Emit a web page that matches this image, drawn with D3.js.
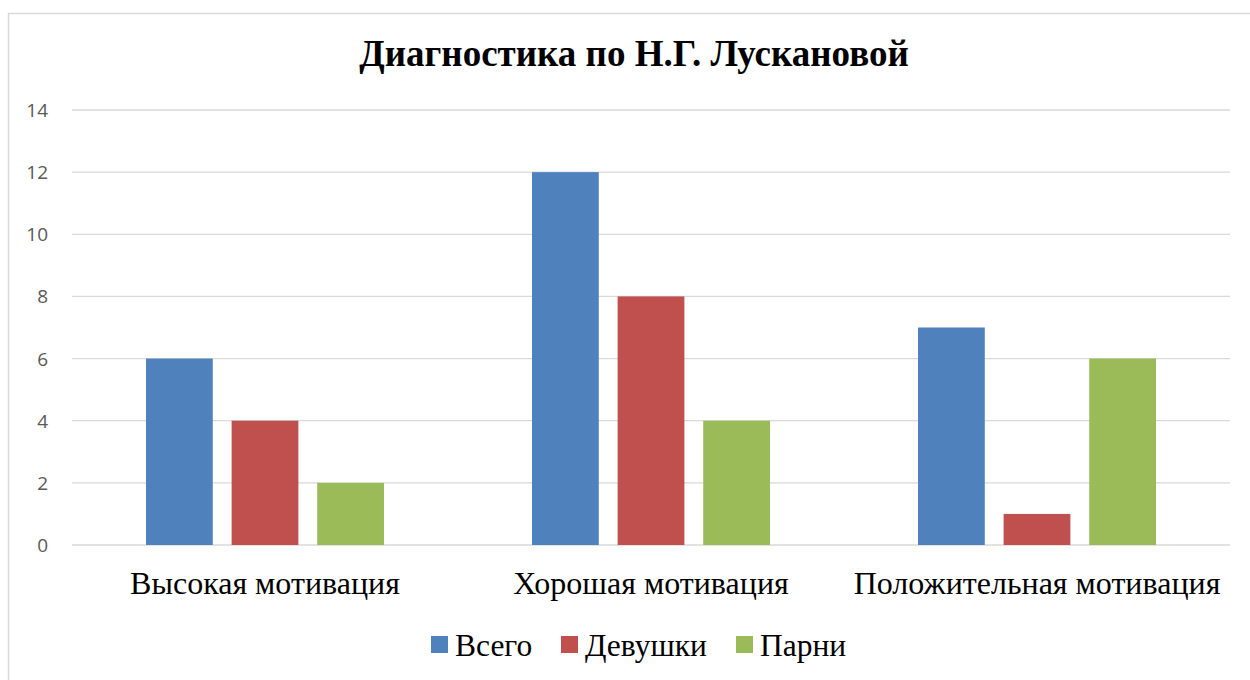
<!DOCTYPE html>
<html><head><meta charset="utf-8">
<script src="https://cdn.jsdelivr.net/npm/d3@7"></script>
<style>body{margin:0;background:#fff}svg{display:block}</style>
</head><body>
<script>
const categories = ["Высокая мотивация", "Хорошая мотивация", "Положительная мотивация"];
const seriesNames = ["Всего", "Девушки", "Парни"];
const vsego = [6, 12, 7];
const devushki = [4, 8, 1];
const parni = [2, 4, 6];
const yTicks = [0, 2, 4, 6, 8, 10, 12, 14];
const colors = ["#4F81BD", "#C0504D", "#9BBB59"];
const title = "Диагностика по Н.Г. Лускановой";

(function () {
const series = [vsego, devushki, parni];
const W = 1250, H = 680;
const svg = d3.select("body").append("svg").attr("width", W).attr("height", H);
svg.append("rect").attr("x", 8.5).attr("y", 13.5).attr("width", 1260).attr("height", 700)
  .attr("fill", "#fff").attr("stroke", "#d9d9d9").attr("stroke-width", 1.5);

const pLeft = 72, pRight = 1230, pTop = 110, pBottom = 545;
const y = d3.scaleLinear().domain([0, 14]).range([pBottom, pTop]);
const x0 = d3.scaleBand().domain(categories).range([pLeft, pRight]).paddingInner(0).paddingOuter(0);
const x1 = d3.scaleBand().domain(d3.range(3)).range([74, 312]).paddingInner(0.22).paddingOuter(0);

svg.append("text").attr("x", 634).attr("y", 66).attr("text-anchor", "middle")
  .attr("font-family", "'Liberation Serif', serif").attr("font-weight", "bold").attr("font-size", 37)
  .text(title);

const grid = svg.append("g");
grid.selectAll("line").data(yTicks).join("line")
  .attr("x1", pLeft).attr("x2", pRight).attr("y1", d => y(d)).attr("y2", d => y(d))
  .attr("stroke", "#d9d9d9").attr("stroke-width", 1.3);
grid.selectAll("text").data(yTicks).join("text")
  .attr("x", 48).attr("y", d => y(d) + 7).attr("text-anchor", "end")
  .attr("font-family", "'Open Sans', sans-serif").attr("font-size", 19).attr("fill", "#595959")
  .text(d => d);

const groups = svg.append("g").selectAll("g").data(categories).join("g")
  .attr("transform", c => `translate(${x0(c)},0)`);
groups.selectAll("rect").data((c, i) => series.map((s, k) => ({k, v: s[i]}))).join("rect")
  .attr("x", d => x1(d.k)).attr("width", x1.bandwidth())
  .attr("y", d => y(d.v)).attr("height", d => pBottom - y(d.v))
  .attr("fill", d => colors[d.k]);

svg.append("g").selectAll("text").data(categories).join("text")
  .attr("x", c => x0(c) + x0.bandwidth() / 2).attr("y", 594).attr("text-anchor", "middle")
  .attr("font-family", "'Liberation Serif', serif").attr("font-size", 32).attr("fill", "#000")
  .text(c => c);

const legX = [431, 561, 736];
const leg = svg.append("g").selectAll("g").data(seriesNames).join("g")
  .attr("transform", (d, i) => `translate(${legX[i]},636)`);
leg.append("rect").attr("width", 17).attr("height", 17).attr("fill", (d, i) => colors[i]);
leg.append("text").attr("x", 24).attr("y", 20)
  .attr("font-family", "'Liberation Serif', serif").attr("font-size", 31.5).attr("fill", "#000")
  .text(d => d);
})();
</script>
</body></html>
